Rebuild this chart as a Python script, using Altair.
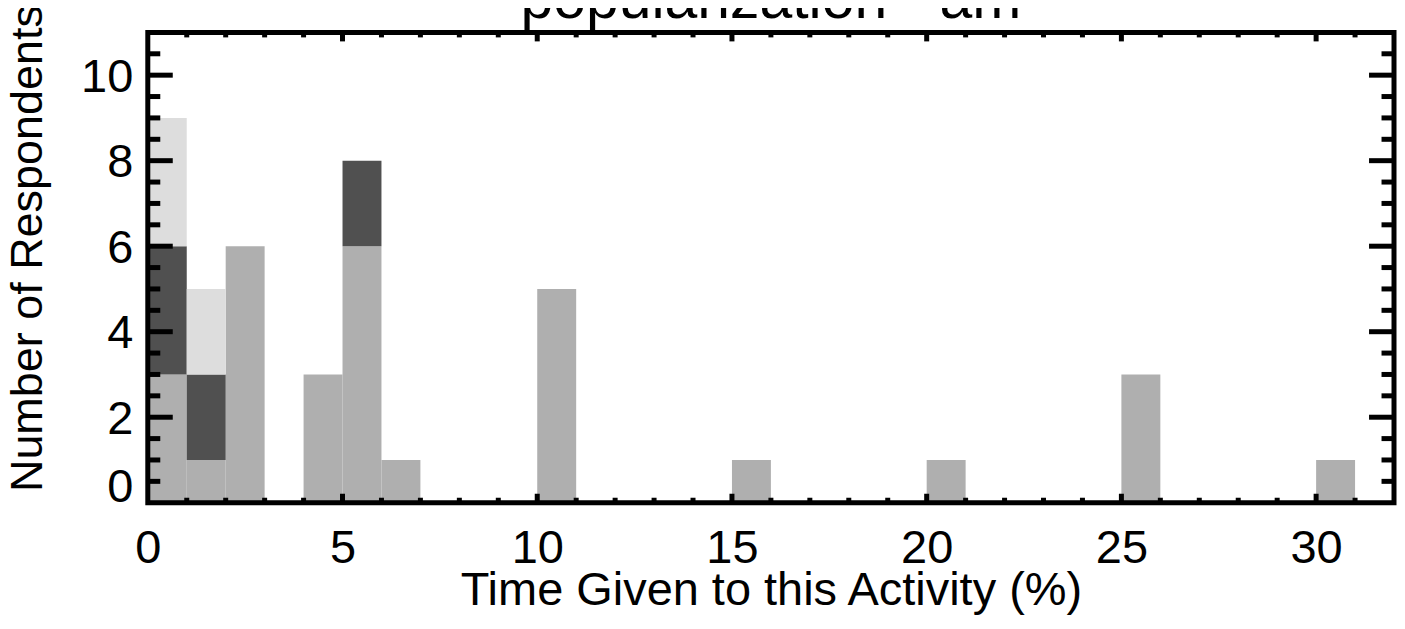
import altair as alt
import pandas as pd

# ---- data ----
bin_starts = [0, 1, 2, 3, 4, 5, 6, 7, 8, 9, 10, 11, 12, 13, 14, 15,
              16, 17, 18, 19, 20, 21, 22, 23, 24, 25, 26, 27, 28, 29, 30]
bin_width = 1
mid_counts = [3, 1, 6, 0, 3, 6, 1, 0, 0, 0, 5, 0, 0, 0, 0, 1,
              0, 0, 0, 0, 1, 0, 0, 0, 0, 3, 0, 0, 0, 0, 1]
dark_counts = [3, 2, 0, 0, 0, 2, 0, 0, 0, 0, 0, 0, 0, 0, 0, 0,
               0, 0, 0, 0, 0, 0, 0, 0, 0, 0, 0, 0, 0, 0, 0]
light_counts = [3, 2, 0, 0, 0, 0, 0, 0, 0, 0, 0, 0, 0, 0, 0, 0,
                0, 0, 0, 0, 0, 0, 0, 0, 0, 0, 0, 0, 0, 0, 0]
series_names = ["Series 1", "Series 2", "Series 3"]
series_colors = ["#AFAFAF", "#505050", "#DDDDDD"]

x_labels = [0, 5, 10, 15, 20, 25, 30]
y_labels = [0, 2, 4, 6, 8, 10]
x_major_ticks = [5, 10, 15, 20, 25, 30]
x_minor_ticks = [v for v in range(1, 32) if v % 5 != 0]
y_major_ticks = [2, 4, 6, 8, 10]
y_minor_ticks = [v / 2 for v in range(1, 22) if v % 4 != 0]

x_domain = [0, 32]
y_domain = [0, 11]

title_text = "popularization - am"
x_title = "Time Given to this Activity (%)"
y_title = "Number of Respondents"

# ---- tables ----
rows = []
for order, (name, counts) in enumerate(zip(series_names, [mid_counts, dark_counts, light_counts])):
    for s, c in zip(bin_starts, counts):
        if c > 0:
            rows.append({"start": s, "end": s + bin_width, "series": name, "order": order, "count": c})
df = pd.DataFrame(rows)

W, H = 1248, 471
FONT = "Liberation Sans"
FS = 47
LW = 5

xscale = alt.Scale(domain=x_domain, nice=False, zero=False)
yscale = alt.Scale(domain=y_domain, nice=False, zero=False)

bars = alt.Chart(df).transform_stack(
    stack="count", groupby=["start"], as_=["y0", "y1"],
    sort=[alt.SortField("order", order="ascending")]
).mark_rect().encode(
    x=alt.X("start:Q", scale=xscale, axis=alt.Axis(
        values=x_labels, format="d", domain=False, ticks=False, grid=False,
        labelFont=FONT, labelFontSize=FS, labelColor="black", labelFlush=False,
        labelOverlap=False, labelPadding=23, labelBaseline="top",
        title=x_title, titleFont=FONT, titleFontSize=FS, titleFontWeight="normal",
        titleColor="black", titleY=65, titleBaseline="top")),
    x2="end:Q",
    y=alt.Y("y0:Q", scale=yscale, axis=alt.Axis(
        values=y_labels, format="d", domain=False, ticks=False, grid=False,
        labelFont=FONT, labelFontSize=FS, labelColor="black", labelFlush=False,
        labelOverlap=False, labelPadding=15,
        labelOffset=alt.condition("datum.value == 0", alt.value(-15), alt.value(2)),
        title=y_title, titleFont=FONT, titleFontSize=45, titleFontWeight="normal",
        titleColor="black", titleX=-97, titleY=216, titleBaseline="bottom",
        titleAngle=270)),
    y2="y1:Q",
    color=alt.Color("series:N", scale=alt.Scale(domain=series_names, range=series_colors), legend=None),
)


def x_ticks(vals, y_from, y_to):
    return alt.Chart(pd.DataFrame({"v": vals})).mark_rule(
        color="black", strokeWidth=LW, strokeCap="butt").encode(
        x=alt.X("v:Q", scale=xscale, axis=None),
        y=alt.value(y_from), y2=alt.value(y_to))


def y_ticks(vals, x_from, x_to):
    return alt.Chart(pd.DataFrame({"w": vals})).mark_rule(
        color="black", strokeWidth=LW, strokeCap="butt").encode(
        y=alt.Y("w:Q", scale=yscale, axis=None),
        x=alt.value(x_from), x2=alt.value(x_to))


ticks = [
    x_ticks(x_major_ticks, H, H - 9), x_ticks(x_minor_ticks, H, H - 5),
    x_ticks(x_major_ticks, 0, 9), x_ticks(x_minor_ticks, 0, 5),
    y_ticks(y_major_ticks, 0, 25), y_ticks(y_minor_ticks, 0, 12.5),
    y_ticks(y_major_ticks, W, W - 25), y_ticks(y_minor_ticks, W, W - 12.5),
]

frame = alt.Chart(pd.DataFrame({"a": [0]})).mark_rect(
    fillOpacity=0, stroke="black", strokeWidth=LW, strokeJoin="miter").encode(
    x=alt.X(datum=x_domain[0], scale=xscale, axis=None),
    x2=alt.datum(x_domain[1]),
    y=alt.Y(datum=y_domain[0], scale=yscale, axis=None),
    y2=alt.datum(y_domain[1]),
)

title = alt.Chart(pd.DataFrame({"t": [title_text]})).mark_text(
    font=FONT, fontSize=59, color="black", align="center", baseline="alphabetic"
).encode(text="t:N", x=alt.value(W / 2), y=alt.value(-14))

chart = alt.layer(bars, *ticks, frame, title).resolve_axis(
    x="independent", y="independent"
).properties(
    width=W, height=H,
    padding={"left": 140, "top": 24, "right": 3, "bottom": 120},
    autosize=alt.AutoSizeParams(type="none"),
).configure_view(stroke=None).configure(background="white")

chart.save("out.html", embed_options={"renderer": "svg", "actions": False})
